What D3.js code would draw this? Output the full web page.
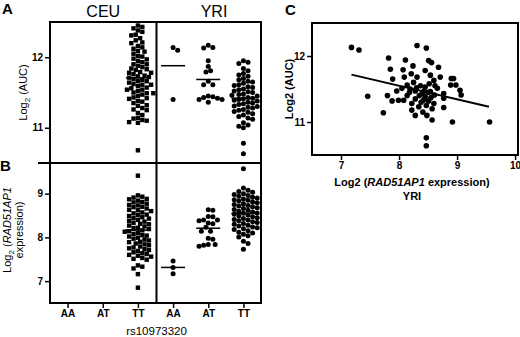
<!DOCTYPE html>
<html>
<head>
<meta charset="utf-8">
<script src="https://cdn.jsdelivr.net/npm/d3@7"></script>
<style>
  body { margin: 0; background: #fff; }
  svg { display: block; font-family: 'Liberation Sans', Arial, sans-serif; }
</style>
</head>
<body>
<svg id="chart" width="520" height="337"></svg>
<script>
// genotype groups
const POPS = ['CEU', 'YRI'];
const GENOTYPES = ['AA', 'AT', 'TT'];

// panel A: Log2 (AUC) by genotype
const aucCEU_TT = [12.45, 12.43, 12.41, 12.38, 12.36, 12.32, 12.31, 12.27, 12.24, 12.21, 12.20, 12.16, 12.14,
  12.12, 12.09, 12.08, 12.05, 12.02, 12.01, 11.98, 11.97, 11.95, 11.93, 11.90, 11.90, 11.88, 11.86, 11.84,
  11.83, 11.82, 11.79, 11.78, 11.78, 11.76, 11.74, 11.73, 11.72, 11.71, 11.69, 11.68, 11.66, 11.66, 11.64,
  11.62, 11.61, 11.61, 11.59, 11.57, 11.56, 11.54, 11.54, 11.52, 11.50, 11.49, 11.49, 11.47, 11.45, 11.43,
  11.42, 11.41, 11.38, 11.37, 11.35, 11.32, 11.31, 11.28, 11.26, 11.25, 11.21, 11.18, 11.14, 11.13, 11.11,
  11.10, 11.08, 11.07, 10.68];
const aucYRI_AA = [12.14, 12.10, 11.40];
const aucYRI_AT = [12.17, 12.14, 12.13, 11.95, 11.87, 11.81, 11.79, 11.66, 11.61, 11.61, 11.45, 11.44,
  11.43, 11.42, 11.40, 11.40, 11.36];
const aucYRI_TT = [11.95, 11.93, 11.91, 11.84, 11.81, 11.77, 11.75, 11.73, 11.70, 11.68, 11.66, 11.65,
  11.63, 11.61, 11.60, 11.58, 11.57, 11.55, 11.54, 11.52, 11.51, 11.50, 11.48, 11.47, 11.46, 11.45, 11.43,
  11.42, 11.41, 11.40, 11.39, 11.38, 11.36, 11.35, 11.34, 11.33, 11.31, 11.30, 11.29, 11.28, 11.26, 11.25,
  11.23, 11.22, 11.20, 11.18, 11.16, 11.14, 11.12, 11.07, 11.04, 11.02, 11.00, 10.78, 10.63];

// panel B: Log2 (RAD51AP1 expression) by genotype
const exprCEU_TT = [9.41, 8.96, 8.93, 8.91, 8.88, 8.87, 8.84, 8.81, 8.80, 8.77, 8.74, 8.73, 8.70, 8.69,
  8.66, 8.63, 8.62, 8.60, 8.57, 8.55, 8.52, 8.51, 8.49, 8.46, 8.44, 8.43, 8.40, 8.38, 8.36, 8.33, 8.31, 8.30,
  8.27, 8.25, 8.22, 8.21, 8.19, 8.16, 8.14, 8.13, 8.10, 8.08, 8.05, 8.04, 8.02, 7.99, 7.97, 7.95, 7.93, 7.90,
  7.89, 7.86, 7.84, 7.82, 7.79, 7.77, 7.75, 7.73, 7.71, 7.69, 7.66, 7.64, 7.62, 7.60, 7.58, 7.56, 7.53, 7.51,
  7.49, 7.36, 7.33, 7.29, 7.16, 6.85];
const exprYRI_AA = [7.46, 7.31, 7.17];
const exprYRI_AT = [8.63, 8.62, 8.48, 8.47, 8.40, 8.38, 8.40, 8.33, 8.31, 8.23, 8.14, 8.14, 7.98, 7.96,
  7.84, 7.82, 7.80, 7.84];
const exprYRI_TT = [9.57, 9.13, 9.08, 9.05, 9.03, 9.00, 8.98, 8.96, 8.94, 8.92, 8.90, 8.88, 8.86, 8.85,
  8.83, 8.81, 8.79, 8.77, 8.75, 8.73, 8.72, 8.70, 8.68, 8.66, 8.64, 8.62, 8.60, 8.58, 8.56, 8.55, 8.53, 8.51,
  8.49, 8.47, 8.45, 8.43, 8.41, 8.40, 8.38, 8.36, 8.34, 8.32, 8.30, 8.28, 8.26, 8.24, 8.22, 8.20, 8.18, 8.15,
  8.12, 8.10, 8.07, 8.04, 8.01, 7.91, 7.86, 7.73];

// panel C: YRI expression vs AUC
const scatterExpr = [7.18, 7.31, 7.46, 7.73, 7.82, 7.85, 7.89, 7.80, 7.88, 7.96, 7.99, 8.08, 8.05, 8.07, 8.09,
  8.11, 8.14, 8.14, 8.19, 8.21, 8.22, 8.22, 8.24, 8.25, 8.28, 8.28, 8.28, 8.31, 8.31, 8.34, 8.37, 8.40, 8.41,
  8.45, 8.45, 8.45, 8.47, 8.47, 8.48, 8.47, 8.47, 8.51, 8.51, 8.54, 8.54, 8.56, 8.57, 8.57, 8.60, 8.60, 8.61,
  8.66, 8.68, 8.71, 8.77, 8.77, 8.77, 8.89, 8.90, 8.94, 8.92, 8.98, 9.05, 9.07, 9.56,
  8.35, 8.42, 8.50, 8.38, 8.55, 8.30, 8.18, 8.43, 8.62, 8.52];
const scatterAUC = [12.13, 12.09, 11.39, 11.14, 11.97, 11.80, 11.65, 11.40, 11.32, 11.47, 11.33, 11.33, 11.51,
  11.79, 11.68, 11.94, 11.56, 11.40, 11.50, 11.73, 11.28, 11.18, 11.85, 11.60, 11.47, 11.35, 11.10, 12.16,
  11.68, 11.23, 11.55, 11.43, 11.15, 11.78, 11.53, 11.38, 12.12, 11.25, 11.10, 10.76, 10.64, 11.93, 11.32,
  11.71, 11.46, 11.90, 11.20, 11.03, 11.63, 11.28, 11.41, 11.51, 11.83, 11.68, 11.43, 11.36, 11.22, 11.56,
  11.66, 11.66, 11.00, 11.56, 11.48, 11.41, 11.00,
  11.40, 11.33, 11.45, 11.30, 11.37, 11.52, 11.45, 11.47, 11.55, 11.58];
const fitSlope = -0.206;
const fitIntercept = 13.197;

const aucTicks = [11, 12];
const exprTicks = [7, 8, 9];
const cXTicks = [7, 8, 9, 10];

const svg = d3.select('#chart');
const FONT = "'Liberation Sans', Arial, sans-serif";

// ---------- left panels ----------
const L = 50, R = 261, TOP_A = 22, MID = 163, BOT_B = 303;
const keys = POPS.flatMap((p) => GENOTYPES.map((g) => `${p}-${g}`));
const x = d3.scalePoint().domain(keys).range([L, R]).padding(0.5);
const yA = d3.scaleLinear().domain([10.5, 12.5]).range([MID, TOP_A]);
const yB = d3.scaleLinear().domain([6.5, 9.7]).range([BOT_B, MID]);
const divX = (x('CEU-TT') + x('YRI-AA')) / 2 + 1;

const groupsA = [
  { key: 'CEU-TT', vals: aucCEU_TT, shape: 'sq' },
  { key: 'YRI-AA', vals: aucYRI_AA, shape: 'dot' },
  { key: 'YRI-AT', vals: aucYRI_AT, shape: 'dot' },
  { key: 'YRI-TT', vals: aucYRI_TT, shape: 'dot' },
];
const groupsB = [
  { key: 'CEU-TT', vals: exprCEU_TT, shape: 'sq' },
  { key: 'YRI-AA', vals: exprYRI_AA, shape: 'dot' },
  { key: 'YRI-AT', vals: exprYRI_AT, shape: 'dot' },
  { key: 'YRI-TT', vals: exprYRI_TT, shape: 'dot' },
];

// simple beeswarm so the points spread sideways like a dot plot
function swarm(vals, y, cx, d) {
  const pts = vals.map((v) => ({ v, y: y(v) })).sort((a, b) => a.y - b.y);
  const done = [];
  pts.forEach((p) => {
    for (let k = 0; k < 60; k++) {
      const off = (k % 2 ? 1 : -1) * Math.ceil(k / 2) * d * 0.5;
      const px = cx + off;
      if (!done.some((q) => (q.x - px) ** 2 + (q.y - p.y) ** 2 < d * d)) {
        p.x = px;
        break;
      }
    }
    done.push(p);
  });
  return done;
}

function drawGroups(groups, y) {
  const g = svg.append('g');
  groups.forEach((grp) => {
    const cx = x(grp.key);
    const pts = swarm(grp.vals, y, cx, grp.shape === 'sq' ? 4.4 : 4.6);
    if (grp.shape === 'sq') {
      g.selectAll(null).data(pts).join('rect')
        .attr('x', (d) => d.x - 2.2).attr('y', (d) => d.y - 2.2)
        .attr('width', 4.4).attr('height', 4.4).style('fill', '#000');
    } else {
      g.selectAll(null).data(pts).join('circle')
        .attr('cx', (d) => d.x).attr('cy', (d) => d.y).attr('r', 2.5).style('fill', '#000');
    }
    const m = y(d3.mean(grp.vals));
    g.append('line').attr('x1', cx - 12).attr('x2', cx + 12).attr('y1', m).attr('y2', m)
      .style('stroke', '#000').style('stroke-width', 1.5);
  });
}

drawGroups(groupsA, yA);
drawGroups(groupsB, yB);

// frames
const frame = svg.append('g').style('stroke', '#000').style('stroke-width', 2).style('fill', 'none');
frame.append('rect').attr('x', L).attr('y', TOP_A).attr('width', R - L).attr('height', BOT_B - TOP_A);
frame.append('line').attr('x1', 38).attr('x2', R).attr('y1', MID).attr('y2', MID);
frame.append('line').attr('x1', divX).attr('x2', divX).attr('y1', TOP_A).attr('y2', BOT_B);

function styleAxis(g) {
  g.select('.domain').remove();
  g.selectAll('line').style('stroke', '#000').style('stroke-width', 1.5);
  g.selectAll('text').style('font-family', FONT).style('font-size', '10px')
    .style('font-weight', 'bold').style('fill', '#000');
}

svg.append('g').attr('transform', `translate(${L - 1},0)`)
  .call(d3.axisLeft(yA).tickValues(aucTicks).tickSize(4).tickPadding(2).tickFormat(d3.format('d')))
  .call(styleAxis);
svg.append('g').attr('transform', `translate(${L - 1},0)`)
  .call(d3.axisLeft(yB).tickValues(exprTicks).tickSize(4).tickPadding(2).tickFormat(d3.format('d')))
  .call(styleAxis);
svg.append('g').attr('transform', `translate(0,${BOT_B + 1})`)
  .call(d3.axisBottom(x).tickSize(4).tickPadding(2).tickFormat((d) => d.split('-')[1]))
  .call(styleAxis);

// texts for left panels
const txt = (xx, yy, s, size, weight, anchor = 'middle') => svg.append('text')
  .attr('x', xx).attr('y', yy).attr('text-anchor', anchor)
  .style('font-family', FONT).style('font-size', size + 'px').style('font-weight', weight)
  .style('fill', '#000').text(s);

txt(2, 14, 'A', 15, 'bold', 'start');
txt(0, 171, 'B', 15, 'bold', 'start');
txt(285, 15, 'C', 15, 'bold', 'start');
txt((L + divX) / 2, 17, 'CEU', 16, 'normal');
txt(214, 17, 'YRI', 16, 'normal');
txt((L + R) / 2 + 1, 335, 'rs10973320', 11.5, 'normal');

const yLabA = svg.append('text').attr('transform', `translate(27,${(TOP_A + MID) / 2}) rotate(-90)`)
  .attr('text-anchor', 'middle').style('font-family', FONT).style('font-size', '11px');
yLabA.append('tspan').text('Log');
yLabA.append('tspan').attr('dy', 3).style('font-size', '8px').text('2');
yLabA.append('tspan').attr('dy', -3).text(' (AUC)');

const yLabB = svg.append('text').attr('transform', `translate(11,${(MID + BOT_B) / 2 - 3}) rotate(-90)`)
  .attr('text-anchor', 'middle').style('font-family', FONT).style('font-size', '11px');
yLabB.append('tspan').text('Log');
yLabB.append('tspan').attr('dy', 3).style('font-size', '8px').text('2');
yLabB.append('tspan').attr('dy', -3).text(' (');
yLabB.append('tspan').style('font-style', 'italic').text('RAD51AP1');
svg.append('text').attr('transform', `translate(23,${(MID + BOT_B) / 2 - 3}) rotate(-90)`)
  .attr('text-anchor', 'middle').style('font-family', FONT).style('font-size', '11px').text('expression)');

// ---------- panel C ----------
const CL = 312, CR = 518, CT = 23, CB = 155;
const xC = d3.scaleLinear().domain([6.5, 10.05]).range([CL, CR]);
const yC = d3.scaleLinear().domain([10.5, 12.5]).range([CB, CT]);
const pairs = scatterExpr.map((e, i) => ({ e, a: scatterAUC[i] }));

svg.append('g').selectAll('circle').data(pairs).join('circle')
  .attr('cx', (d) => xC(d.e)).attr('cy', (d) => yC(d.a)).attr('r', 2.8).style('fill', '#000');

const ext = d3.extent(scatterExpr);
svg.append('line')
  .attr('x1', xC(ext[0])).attr('y1', yC(fitIntercept + fitSlope * ext[0]))
  .attr('x2', xC(ext[1] - 0.01)).attr('y2', yC(fitIntercept + fitSlope * (ext[1] - 0.01)))
  .style('stroke', '#000').style('stroke-width', 2);

svg.append('rect').attr('x', CL).attr('y', CT).attr('width', CR - CL).attr('height', CB - CT)
  .style('fill', 'none').style('stroke', '#000').style('stroke-width', 2);

svg.append('g').attr('transform', `translate(${CL - 1},0)`)
  .call(d3.axisLeft(yC).tickValues(aucTicks).tickSize(4).tickPadding(2).tickFormat(d3.format('d')))
  .call(styleAxis);
svg.append('g').attr('transform', `translate(0,${CB + 1})`)
  .call(d3.axisBottom(xC).tickValues(cXTicks).tickSize(4).tickPadding(2).tickFormat(d3.format('d')))
  .call(styleAxis);

const cxTitle = svg.append('text').attr('x', 412).attr('y', 186).attr('text-anchor', 'middle')
  .style('font-family', FONT).style('font-size', '11px').style('font-weight', 'bold');
cxTitle.append('tspan').text('Log2 (');
cxTitle.append('tspan').style('font-style', 'italic').text('RAD51AP1');
cxTitle.append('tspan').text(' expression)');
txt(412, 200, 'YRI', 11, 'bold');

svg.append('text').attr('transform', `translate(293,${(CT + CB) / 2}) rotate(-90)`)
  .attr('text-anchor', 'middle').style('font-family', FONT).style('font-size', '11px')
  .style('font-weight', 'bold').text('Log2 (AUC)');
</script>
</body>
</html>
